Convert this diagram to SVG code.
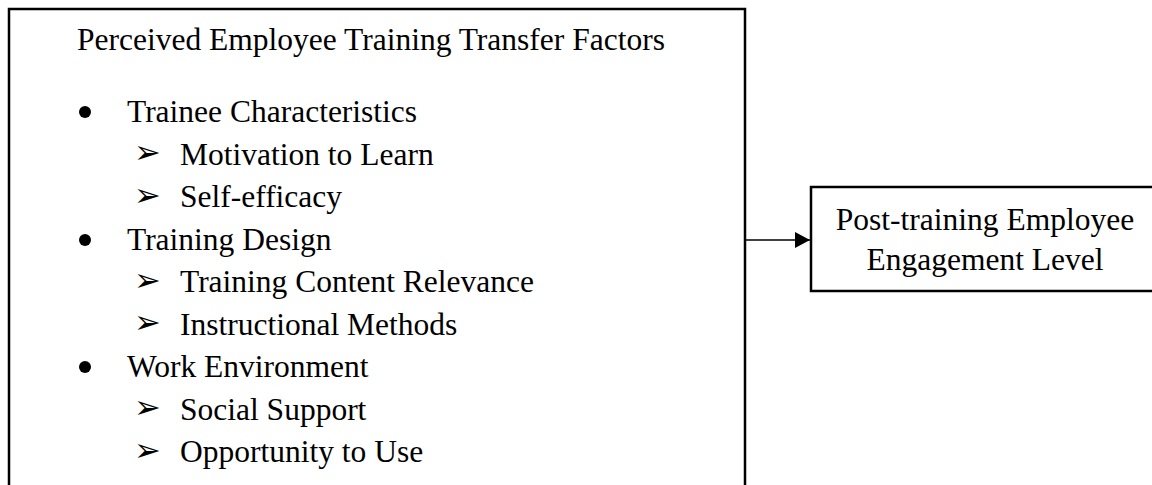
<svg xmlns="http://www.w3.org/2000/svg" width="1152" height="485" viewBox="0 0 1152 485">
  <style>
    .box { fill: #ffffff; stroke: #000000; stroke-width: 2.5; }
    .txt { font-family: "Liberation Serif", "Times New Roman", serif; font-size: 31.5px; fill: #000000; }
    .mark { font-family: "DejaVu Sans", sans-serif; font-size: 32px; fill: #000000; }
    .edge { stroke: #000000; stroke-width: 1.3; fill: none; }
  </style>
  <defs>
    <marker id="arrow" markerWidth="16" markerHeight="16" refX="15" refY="8" orient="auto" markerUnits="userSpaceOnUse">
      <path d="M0,0 L15,8 L0,16 Z" fill="#000000"/>
    </marker>
  </defs>
  <rect width="1152" height="485" fill="#ffffff"/>

  <!-- Factors box -->
  <g id="node-factors">
    <rect class="box" x="9" y="9" width="736" height="500"/>
    <text class="txt" x="77" y="50">Perceived Employee Training Transfer Factors</text>

    <circle cx="85" cy="112" r="6"/>
    <text class="txt" x="127" y="122">Trainee Characteristics</text>
    <text class="mark" x="134" y="163">➢</text>
    <text class="txt" x="180" y="164.5">Motivation to Learn</text>
    <text class="mark" x="134" y="205.5">➢</text>
    <text class="txt" x="180" y="207">Self-efficacy</text>

    <circle cx="85" cy="240" r="6"/>
    <text class="txt" x="127" y="249.5">Training Design</text>
    <text class="mark" x="134" y="290.5">➢</text>
    <text class="txt" x="180" y="292">Training Content Relevance</text>
    <text class="mark" x="134" y="333">➢</text>
    <text class="txt" x="180" y="334.5">Instructional Methods</text>

    <circle cx="85" cy="367" r="6"/>
    <text class="txt" x="127" y="377">Work Environment</text>
    <text class="mark" x="134" y="418">➢</text>
    <text class="txt" x="180" y="419.5">Social Support</text>
    <text class="mark" x="134" y="460.5">➢</text>
    <text class="txt" x="180" y="462">Opportunity to Use</text>
  </g>

  <!-- Outcome box -->
  <g id="node-engagement">
    <rect class="box" x="811" y="187" width="360" height="104"/>
    <text class="txt" x="985" y="230" text-anchor="middle">Post-training Employee</text>
    <text class="txt" x="985" y="270" text-anchor="middle">Engagement Level</text>
  </g>

  <!-- Connectors -->
  <g id="connectors">
    <line class="edge" x1="746" y1="240" x2="810" y2="240" marker-end="url(#arrow)"/>
  </g>
</svg>
